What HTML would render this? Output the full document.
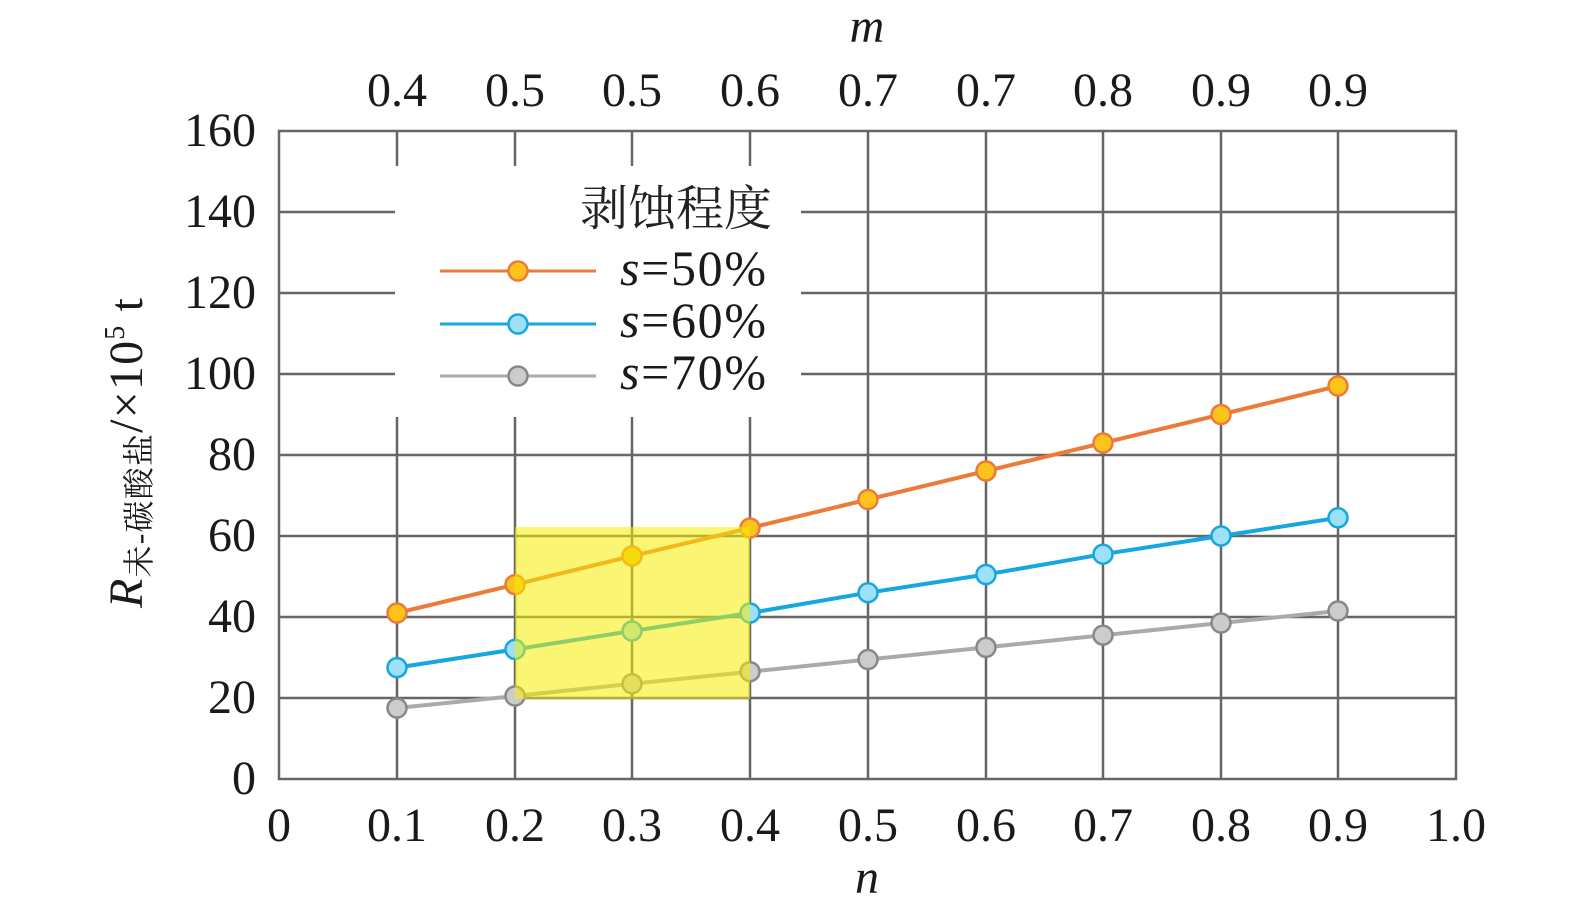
<!DOCTYPE html>
<html><head><meta charset="utf-8"><style>html,body{margin:0;padding:0;background:#fff;overflow:hidden}</style></head>
<body>
<svg width="1575" height="916" viewBox="0 0 1575 916" xmlns="http://www.w3.org/2000/svg" font-family="Liberation Serif, Noto Serif CJK SC, serif" style="display:block">
<g stroke="#666" stroke-width="2.5">
<line x1="279" y1="212" x2="1456" y2="212"/><line x1="279" y1="293" x2="1456" y2="293"/>
<line x1="279" y1="374" x2="1456" y2="374"/><line x1="279" y1="455" x2="1456" y2="455"/>
<line x1="279" y1="536" x2="1456" y2="536"/><line x1="279" y1="617" x2="1456" y2="617"/>
<line x1="279" y1="698" x2="1456" y2="698"/>
<line x1="397" y1="131" x2="397" y2="779"/><line x1="515" y1="131" x2="515" y2="779"/>
<line x1="632" y1="131" x2="632" y2="779"/><line x1="750" y1="131" x2="750" y2="779"/>
<line x1="868" y1="131" x2="868" y2="779"/><line x1="986" y1="131" x2="986" y2="779"/>
<line x1="1103" y1="131" x2="1103" y2="779"/><line x1="1221" y1="131" x2="1221" y2="779"/>
<line x1="1338" y1="131" x2="1338" y2="779"/>
<rect x="279" y="131" width="1177" height="648" fill="none"/>
</g>
<rect x="395" y="166" width="406" height="251" fill="#fff"/>
<polyline fill="none" stroke="#aaa" stroke-width="4" points="397,708 515,696 632,683.8 750,671.7 868,659.5 986,647.4 1103,635.2 1221,623 1338,611"/>
<polyline fill="none" stroke="#16a6e0" stroke-width="4" points="397,667.6 515,649.4 632,631 750,613 868,592.7 986,574.5 1103,554.2 1221,536 1338,517.8"/>
<polyline fill="none" stroke="#ec7a3a" stroke-width="4" points="397,613 515,584.6 632,556 750,528 868,499.5 986,471 1103,443 1221,414.5 1338,386"/>
<g fill="#ccc" stroke="#888" stroke-width="2.5">
<circle cx="397" cy="708" r="9.5"/><circle cx="515" cy="696" r="9.5"/><circle cx="632" cy="683.8" r="9.5"/><circle cx="750" cy="671.7" r="9.5"/><circle cx="868" cy="659.5" r="9.5"/><circle cx="986" cy="647.4" r="9.5"/><circle cx="1103" cy="635.2" r="9.5"/><circle cx="1221" cy="623" r="9.5"/><circle cx="1338" cy="611" r="9.5"/>
</g>
<g fill="#9de0f8" stroke="#16a6e0" stroke-width="2.5">
<circle cx="397" cy="667.6" r="9.5"/><circle cx="515" cy="649.4" r="9.5"/><circle cx="632" cy="631" r="9.5"/><circle cx="750" cy="613" r="9.5"/><circle cx="868" cy="592.7" r="9.5"/><circle cx="986" cy="574.5" r="9.5"/><circle cx="1103" cy="554.2" r="9.5"/><circle cx="1221" cy="536" r="9.5"/><circle cx="1338" cy="517.8" r="9.5"/>
</g>
<g fill="#fcc31a" stroke="#ec7a3a" stroke-width="2.5">
<circle cx="397" cy="613" r="9.5"/><circle cx="515" cy="584.6" r="9.5"/><circle cx="632" cy="556" r="9.5"/><circle cx="750" cy="528" r="9.5"/><circle cx="868" cy="499.5" r="9.5"/><circle cx="986" cy="471" r="9.5"/><circle cx="1103" cy="443" r="9.5"/><circle cx="1221" cy="414.5" r="9.5"/><circle cx="1338" cy="386" r="9.5"/>
</g>
<rect x="515" y="527" width="235" height="172" fill="#f5ef00" opacity="0.55"/>
<text x="772" y="225" font-size="48" text-anchor="end" fill="#222">剥蚀程度</text>
<line x1="440" y1="271" x2="596" y2="271" stroke="#ec7a3a" stroke-width="3"/>
<circle cx="518" cy="271" r="9.5" fill="#fcc31a" stroke="#ec7a3a" stroke-width="2.5"/>
<line x1="440" y1="324" x2="596" y2="324" stroke="#16a6e0" stroke-width="3"/>
<circle cx="518" cy="324" r="9.5" fill="#9de0f8" stroke="#16a6e0" stroke-width="2.5"/>
<line x1="440" y1="376" x2="596" y2="376" stroke="#aaa" stroke-width="3"/>
<circle cx="518" cy="376" r="9.5" fill="#ccc" stroke="#888" stroke-width="2.5"/>
<g font-size="50" fill="#1a1a1a">
<text x="620" y="285" textLength="146"><tspan font-style="italic">s</tspan>=50%</text>
<text x="620" y="337" textLength="146"><tspan font-style="italic">s</tspan>=60%</text>
<text x="620" y="389" textLength="146"><tspan font-style="italic">s</tspan>=70%</text>
</g>
<g font-size="48" fill="#1a1a1a" text-anchor="end">
<text x="256" y="146">160</text><text x="256" y="227">140</text><text x="256" y="308">120</text>
<text x="256" y="389">100</text><text x="256" y="470">80</text><text x="256" y="551">60</text>
<text x="256" y="632">40</text><text x="256" y="713">20</text><text x="256" y="794">0</text>
</g>
<g font-size="48" fill="#1a1a1a" text-anchor="middle">
<text x="279" y="841">0</text><text x="397" y="841">0.1</text><text x="515" y="841">0.2</text>
<text x="632" y="841">0.3</text><text x="750" y="841">0.4</text><text x="868" y="841">0.5</text>
<text x="986" y="841">0.6</text><text x="1103" y="841">0.7</text><text x="1221" y="841">0.8</text>
<text x="1338" y="841">0.9</text><text x="1456" y="841">1.0</text>
<text x="397" y="106">0.4</text><text x="515" y="106">0.5</text><text x="632" y="106">0.5</text>
<text x="750" y="106">0.6</text><text x="868" y="106">0.7</text><text x="986" y="106">0.7</text>
<text x="1103" y="106">0.8</text><text x="1221" y="106">0.9</text><text x="1338" y="106">0.9</text>
<text x="867" y="42" font-style="italic">m</text>
<text x="867" y="893" font-style="italic">n</text>
</g>
<text transform="translate(142,453) rotate(-90)" text-anchor="middle" font-size="48" fill="#1a1a1a" textLength="310"><tspan font-style="italic">R</tspan><tspan font-size="32" dy="8">未-碳酸盐</tspan><tspan dy="-8">/×10</tspan><tspan font-size="28" dy="-18">5</tspan><tspan dy="18"> t</tspan></text>
</svg>
</body></html>
